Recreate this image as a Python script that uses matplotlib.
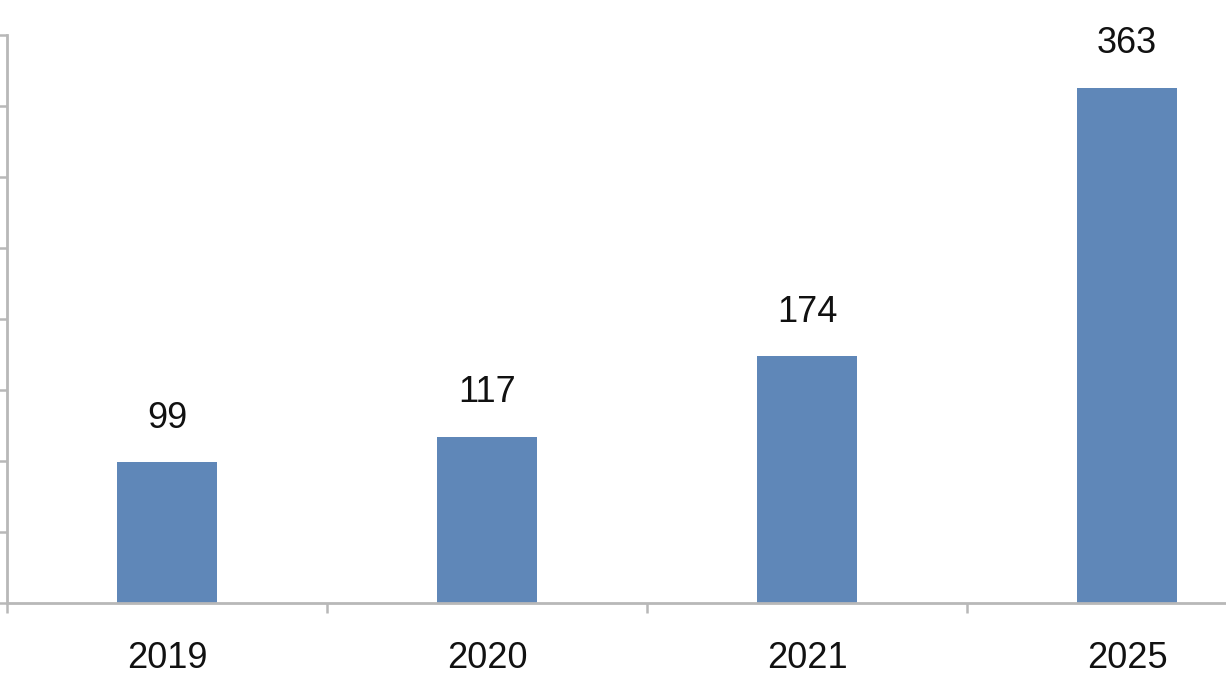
import matplotlib
matplotlib.use("Agg")
from matplotlib import pyplot as plt
import numpy as np

years = ["2019", "2020", "2021", "2025"]
values = [99, 117, 174, 363]

plt.rcParams['font.family'] = ['Liberation Sans Narrow', 'Liberation Sans', 'DejaVu Sans']

fig = plt.figure(figsize=(12.26, 6.9), dpi=100)
# axes runs past the right edge, like the cropped original
ax = fig.add_axes([7/1226, 87/690, 1280/1226, 568/690])

x = np.arange(len(years))
bars = ax.bar(x, values, width=0.31, color="#5f87b8", zorder=2)

for xi, v in zip(x, values):
    ax.annotate(str(v), (xi, v), xytext=(0, 19), textcoords="offset points",
                ha="center", va="bottom", fontsize=26, color="#111111")

ax.set_xlim(-0.5, 3.5)
ax.set_ylim(0, 400)
ax.set_yticks(np.arange(0, 401, 50))
ax.set_yticklabels([])

ax.set_xticks(x)
ax.set_xticklabels(years, fontsize=26, color="#111111")
ax.set_xticks(np.arange(-0.5, 4, 1), minor=True)
ax.tick_params(axis="x", which="major", length=0, pad=27)
ax.tick_params(axis="x", which="minor", length=7, width=1.8, color="#b8b8b8", direction="out")
ax.tick_params(axis="y", length=6, width=1.8, color="#b8b8b8", direction="out")

for side in ["top", "right"]:
    ax.spines[side].set_visible(False)
for side in ["left", "bottom"]:
    ax.spines[side].set_color("#b8b8b8")
    ax.spines[side].set_linewidth(2)

fig.savefig("out.png", dpi=100)
